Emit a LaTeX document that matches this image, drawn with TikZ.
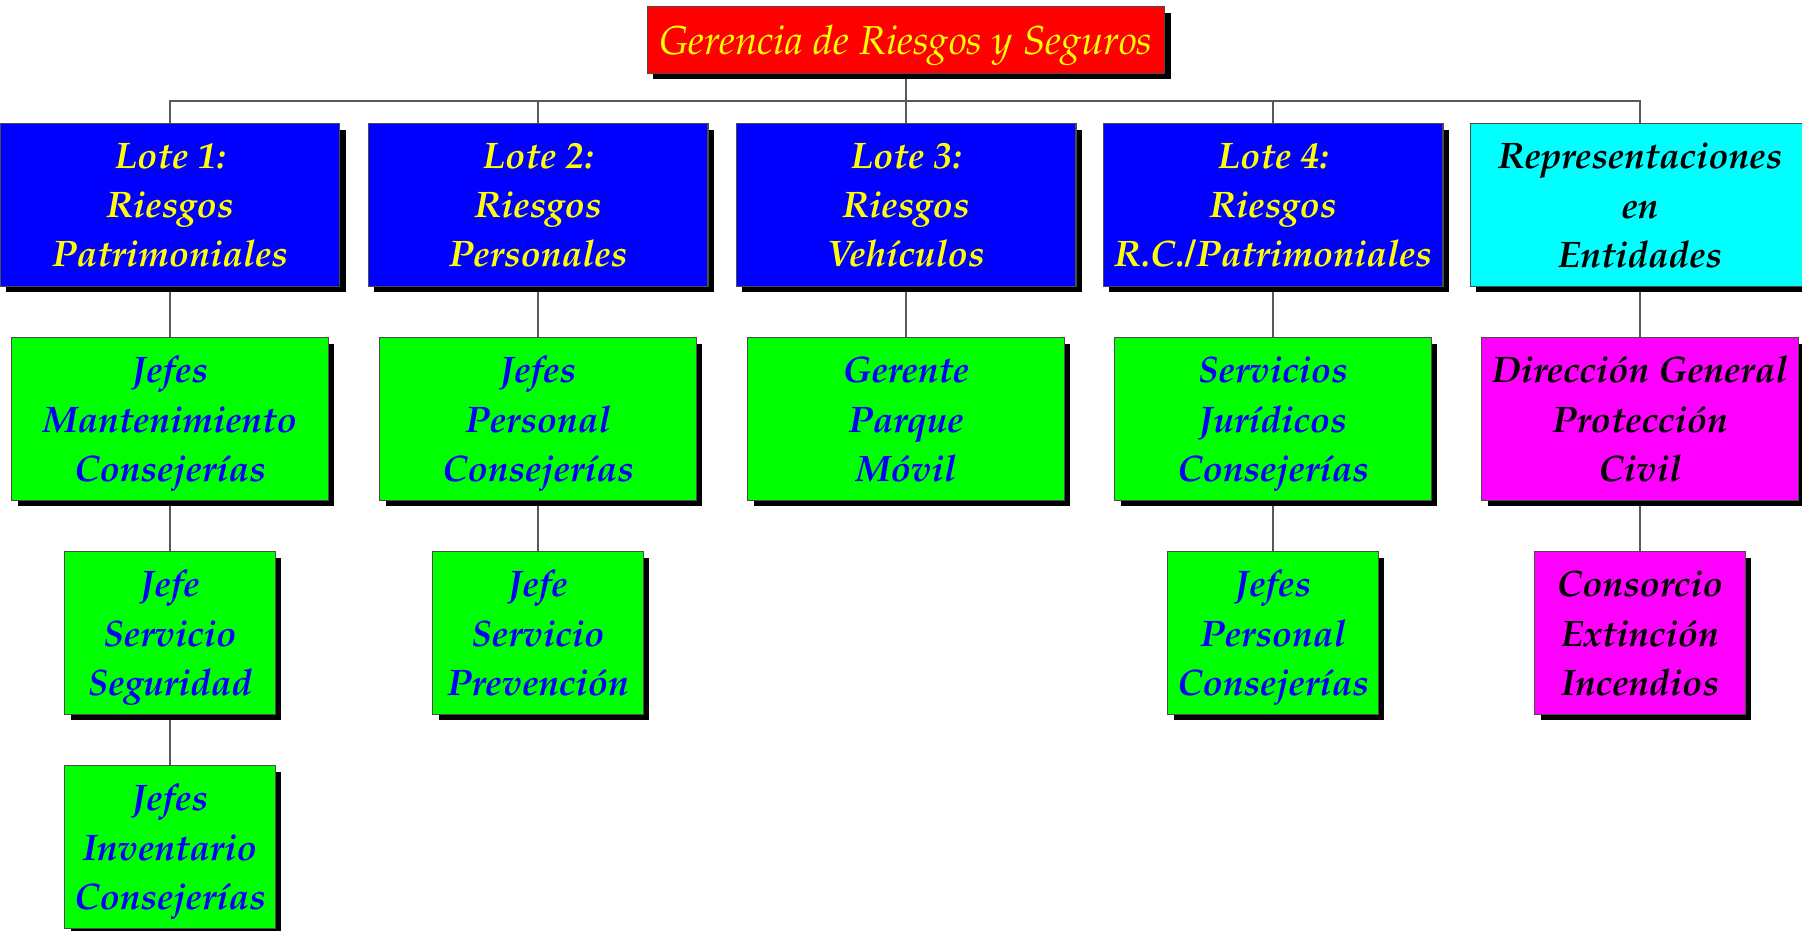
\documentclass[tikz,border=0pt]{standalone}
\IfFileExists{mathpazo.sty}{\usepackage[T1]{fontenc}\usepackage{mathpazo}}{\usepackage{fontspec}\setmainfont{Liberation Serif}}
\usetikzlibrary{backgrounds,shadows}

\definecolor{rojo}{RGB}{255,0,0}
\definecolor{azul}{RGB}{0,0,255}
\definecolor{verde}{RGB}{0,255,0}
\definecolor{amarillo}{RGB}{255,255,0}
\definecolor{cian}{RGB}{0,255,255}
\definecolor{rosa}{RGB}{255,0,255}

\tikzset{
  caja/.style={draw=black!70, line width=0.6pt, align=center, inner sep=0pt, text depth=0pt,
    font=\fontsize{21}{28}\selectfont\bfseries\itshape,
    drop shadow={shadow xshift=0.12cm, shadow yshift=-0.12cm, fill=black, opacity=1}},
  gerencia/.style={caja, fill=rojo, text=amarillo, font=\fontsize{23}{28}\selectfont\itshape,
    minimum width=10.36cm, minimum height=1.34cm},
  lote/.style={caja, fill=azul, text=amarillo, minimum width=6.8cm, minimum height=3.26cm},
  entidad/.style={caja, fill=cian, text=black, minimum width=6.8cm, minimum height=3.26cm},
  jefes/.style={caja, fill=verde, text=azul, minimum width=6.34cm, minimum height=3.26cm},
  jefe/.style={caja, fill=verde, text=azul, minimum width=4.22cm, minimum height=3.26cm},
  civil/.style={caja, fill=rosa, text=black, minimum width=6.34cm, minimum height=3.26cm},
  consorcio/.style={caja, fill=rosa, text=black, minimum width=4.22cm, minimum height=3.26cm},
  linea/.style={draw=black!65, line width=0.6pt}
}

\begin{document}
\begin{tikzpicture}[x=0.02cm, y=-0.02cm]
  \useasboundingbox (0,0) rectangle (1802,930);

  \node[gerencia] (ger) at (906,40) {Gerencia de Riesgos y Seguros};

  \node[lote] (l1) at (170,205) {Lote 1:\\Riesgos\\Patrimoniales};
  \node[lote] (l2) at (538,205) {Lote 2:\\Riesgos\\Personales};
  \node[lote] (l3) at (906,205) {Lote 3:\\Riesgos\\Veh\'{\i}culos};
  \node[lote] (l4) at (1273,205) {Lote 4:\\Riesgos\\R.C./Patrimoniales};
  \node[entidad] (l5) at (1640,205) {Representaciones\\en\\Entidades};

  \node[jefes] (mant) at (170,419) {Jefes\\Mantenimiento\\Consejer\'{\i}as};
  \node[jefes] (pers) at (538,419) {Jefes\\Personal\\Consejer\'{\i}as};
  \node[jefes] (parq) at (906,419) {Gerente\\Parque\\M\'ovil};
  \node[jefes] (jur) at (1273,419) {Servicios\\Jur\'{\i}dicos\\Consejer\'{\i}as};
  \node[civil] (dgpc) at (1640,419) {Direcci\'on General\\Protecci\'on\\Civil};

  \node[jefe] (seg) at (170,633) {Jefe\\Servicio\\Seguridad};
  \node[jefe] (prev) at (538,633) {Jefe\\Servicio\\Prevenci\'on};
  \node[jefe] (pers2) at (1273,633) {Jefes\\Personal\\Consejer\'{\i}as};
  \node[consorcio] (cons) at (1640,633) {Consorcio\\Extinci\'on\\Incendios};

  \node[jefe] (inv) at (170,847) {Jefes\\Inventario\\Consejer\'{\i}as};

  \begin{scope}[on background layer]
    \draw[linea] (ger.south) -- ++(0,27) -| (l1.north);
    \draw[linea] (ger.south) -- ++(0,27) -| (l2.north);
    \draw[linea] (ger.south) -- (l3.north);
    \draw[linea] (ger.south) -- ++(0,27) -| (l4.north);
    \draw[linea] (ger.south) -- ++(0,27) -| (l5.north);
    \draw[linea] (l1) -- (mant);
    \draw[linea] (l2) -- (pers);
    \draw[linea] (l3) -- (parq);
    \draw[linea] (l4) -- (jur);
    \draw[linea] (l5) -- (dgpc);
    \draw[linea] (mant) -- (seg);
    \draw[linea] (pers) -- (prev);
    \draw[linea] (jur) -- (pers2);
    \draw[linea] (dgpc) -- (cons);
    \draw[linea] (seg) -- (inv);
  \end{scope}
\end{tikzpicture}
\end{document}
